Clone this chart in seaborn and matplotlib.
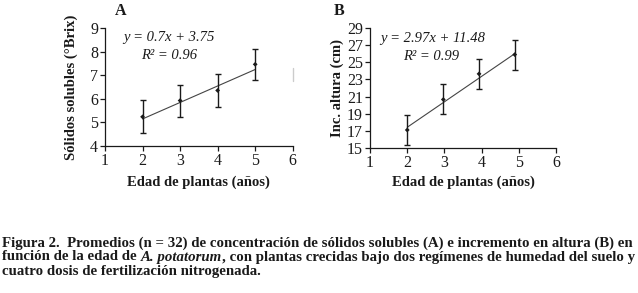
import numpy as np
import pandas as pd
import seaborn as sns
import matplotlib.pyplot as plt

# --- datos ---
edad_a = [2, 3, 4, 5]
brix = [5.24, 5.93, 6.36, 7.47]
brix_err = [0.70, 0.68, 0.70, 0.67]
coef_a = (0.7, 3.75)

edad_b = [2, 2.97, 3.93, 4.89]
altura = [17.1, 20.66, 23.65, 25.9]
altura_err = [1.8, 1.75, 1.75, 1.75]
coef_b = (2.97, 11.48)

sns.set_style('ticks')
plt.rcParams['font.family'] = ['Liberation Serif', 'DejaVu Serif']

fig = plt.figure(figsize=(6.38, 2.93), dpi=100)
axA = fig.add_axes([0.1646, 0.5017, 0.2942, 0.4017])
axB = fig.add_axes([0.5800, 0.4949, 0.2915, 0.4095])

INK = '#1a1a1a'


def panel(ax, x, y, err, coef, ylim, yticks, ylabel, ypad, xpad,
          eq, r2, eq_pos, r2_pos):
    df = pd.DataFrame({'x': x, 'y': y})
    xs = np.array([x[0], x[-1]])
    fit = pd.DataFrame({'x': xs, 'y': coef[0] * xs + coef[1]})
    sns.lineplot(data=fit, x='x', y='y', ax=ax, color='#444444', lw=0.8)
    ax.errorbar(x, y, yerr=err, fmt='none', ecolor=INK,
                elinewidth=1.0, capsize=2.5, capthick=1.0)
    sns.scatterplot(data=df, x='x', y='y', ax=ax, color=INK,
                    marker='D', s=6, edgecolor='none', zorder=5)
    ax.set_xlim(1, 6)
    ax.set_ylim(*ylim)
    ax.set_xticks(range(1, 7))
    ax.set_yticks(yticks)
    ax.tick_params(labelsize=11.5, length=3.5, width=0.9, pad=1.5, colors=INK)
    for s in ['left', 'bottom']:
        ax.spines[s].set_linewidth(0.9)
        ax.spines[s].set_color(INK)
    sns.despine(ax=ax)
    ax.set_xlabel('Edad de plantas (años)', fontsize=10.5, fontweight='bold',
                  labelpad=xpad, color=INK)
    ax.set_ylabel(ylabel, fontsize=10.5, fontweight='bold', labelpad=ypad,
                  color=INK)
    ax.text(*eq_pos, eq, transform=ax.transAxes, fontsize=10.5, style='italic',
            ha='left', va='center', color=INK)
    ax.text(*r2_pos, r2, transform=ax.transAxes, fontsize=10.5, style='italic',
            ha='left', va='center', color=INK)


panel(axA, edad_a, brix, brix_err, coef_a, (4, 9), range(4, 10),
      'Sólidos solubles (°Brix)', 9, 5, 'y = 0.7x + 3.75', 'R² = 0.96',
      (0.095, 0.92), (0.19, 0.77))
panel(axB, edad_b, altura, altura_err, coef_b, (15, 29), range(15, 30, 2),
      'Inc. altura (cm)', 2, 3, 'y = 2.97x + 11.48', 'R² = 0.99',
      (0.055, 0.915), (0.18, 0.765))

# artefacto gris a la derecha del panel A
axA.plot([6, 6], [6.75, 7.3], color='#cccccc', lw=1, clip_on=False)

fig.text(121 / 638, 1 - 11 / 293, 'A', fontsize=11.5, fontweight='bold',
         ha='center', va='center', color=INK)
fig.text(339 / 638, 1 - 11 / 293, 'B', fontsize=11.5, fontweight='bold',
         ha='center', va='center', color=INK)

# --- pie de figura ---
FS = 10.7
cap = dict(fontsize=FS, fontweight='bold', color=INK, va='center')
fig.text(0.003, 1 - 243 / 293,
         'Figura 2.  Promedios (n = 32) de concentración de sólidos solubles (A) '
         'e incremento en altura (B) en', **cap)
t1 = fig.text(0.003, 1 - 257 / 293, 'función de la edad de ', **cap)
t2 = axA.annotate('A. potatorum', xy=(1, 0), xycoords=t1, va='bottom',
                  fontsize=FS, fontweight='bold', style='italic',
                  color=INK, annotation_clip=False)
axA.annotate(', con plantas crecidas bajo dos regímenes de humedad del suelo y',
             xy=(1, 0), xycoords=t2, va='bottom', fontsize=FS,
             fontweight='bold', color=INK, annotation_clip=False)
fig.text(0.003, 1 - 271 / 293,
         'cuatro dosis de fertilización nitrogenada.', **cap)

fig.savefig('out.png', dpi=100)
